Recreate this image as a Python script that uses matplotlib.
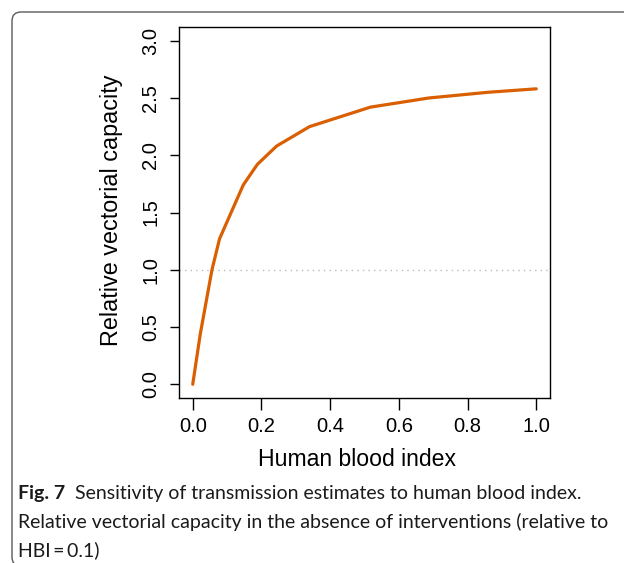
import matplotlib
matplotlib.use("Agg")
import matplotlib.pyplot as plt
from matplotlib.patches import FancyBboxPatch

# values
hbi = [0.0, 0.022, 0.056, 0.078, 0.147, 0.188, 0.244, 0.340, 0.517, 0.687, 0.860, 1.0]
rel_vc = [0.0, 0.44, 1.00, 1.27, 1.74, 1.92, 2.08, 2.25, 2.42, 2.50, 2.55, 2.58]

x_ticks = [0.0, 0.2, 0.4, 0.6, 0.8, 1.0]
y_ticks = [0.0, 0.5, 1.0, 1.5, 2.0, 2.5, 3.0]

caption_bold = "Fig. 7"
caption_lines = ["Sensitivity of transmission estimates to human blood index.",
                 "Relative vectorial capacity in the absence of interventions (relative to",
                 "HBI\u2009=\u20090.1)"]

W, H = 624, 563
fig = plt.figure(figsize=(W / 100, H / 100), dpi=100)

def px(x, y):
    # pixel coords (from top-left) to figure fraction
    return x / W, 1 - y / H

l, t = px(179, 27)
r, b = px(550, 398)
ax = fig.add_axes([l, b, r - l, t - b])

ax.plot(hbi, rel_vc, color="#D95F02", lw=2.3, solid_capstyle="round", zorder=3)
ax.axhline(1.0, color="#bbbbbb", lw=1.0, ls=(0, (1, 3)), zorder=2)

ax.set_xlim(-0.04, 1.04)
ax.set_ylim(-0.12, 3.12)
ax.set_xticks(x_ticks)
ax.set_yticks(y_ticks)
ax.set_xticklabels([f"{v:.1f}" for v in x_ticks])
ax.set_yticklabels([f"{v:.1f}" for v in y_ticks], rotation=90, va="center")

for s in ax.spines.values():
    s.set_linewidth(1.0)
    s.set_color("black")

for lab in ax.get_xticklabels() + ax.get_yticklabels():
    lab.set_fontfamily("Liberation Sans")
    lab.set_fontsize(14.5)
ax.tick_params(axis="x", length=8.5, width=1.0, pad=5, colors="black")
ax.tick_params(axis="y", length=6.5, width=1.0, pad=7, colors="black")

fig.text(357 / W, 1 - 459 / H, "Human blood index",
         ha="center", va="center", family="Liberation Sans", size=16.6)
fig.text(112 / W, 1 - 210 / H, "Relative vectorial capacity",
         ha="center", va="center", rotation=90, family="Liberation Sans", size=16.8)

# rounded frame around the figure panel
frame = FancyBboxPatch((0.12, -0.03), 7.0, 5.51 + 0.03,
                       boxstyle="round,pad=0,rounding_size=0.09",
                       transform=fig.dpi_scale_trans, fill=False,
                       ec="#5a5a5a", lw=1.0, clip_on=False)
fig.patches.append(frame)

# caption
renderer = fig.canvas.get_renderer()
cap_font = "Lato"
cap_size = 14.0
cap_color = "#1a1a1a"
x0 = 18 / W
tb = fig.text(x0, 1 - 494 / H, caption_bold, ha="left", va="center",
              family=cap_font, weight="bold", size=cap_size, color=cap_color)
bb = tb.get_window_extent(renderer)
fig.text((bb.x1 + 10) / W, 1 - 494 / H, caption_lines[0], ha="left", va="center",
         family=cap_font, size=cap_size, color=cap_color)
fig.text(x0, 1 - 522 / H, caption_lines[1], ha="left", va="center",
         family=cap_font, size=cap_size, color=cap_color)
fig.text(x0, 1 - 550 / H, caption_lines[2], ha="left", va="center",
         family=cap_font, size=cap_size, color=cap_color)

fig.savefig("out.png", dpi=100)
